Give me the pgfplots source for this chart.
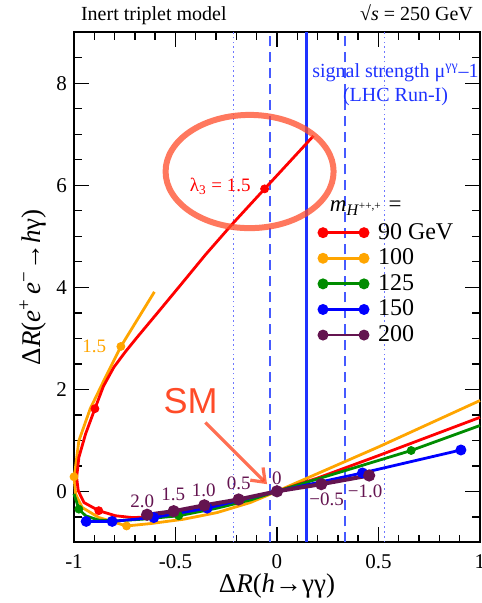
\documentclass[border=0pt]{standalone}
\usepackage{fontspec}
\setmainfont{Liberation Serif}
\newfontfamily\sansSM{Liberation Sans}
\usepackage{pgfplots}
\pgfplotsset{compat=1.18}
\usetikzlibrary{arrows.meta}
\definecolor{cRed}{RGB}{255,0,0}
\definecolor{cOrange}{RGB}{255,165,0}
\definecolor{cGreen}{RGB}{0,140,0}
\definecolor{cBlue}{RGB}{0,0,255}
\definecolor{cPurple}{RGB}{100,20,80}
\definecolor{cLine}{RGB}{30,50,255}
\definecolor{cDash}{RGB}{70,90,255}
\definecolor{cDot}{RGB}{110,120,255}
\definecolor{cAnno}{RGB}{255,75,40}
\begin{document}
\begin{tikzpicture}
\begin{axis}[
  scale only axis, width=203pt, height=255pt,
  xmin=-1, xmax=1, ymin=-1, ymax=9,
  xtick={-1,-0.5,0,0.5,1}, xticklabels={-1,-0.5,0,0.5,1},
  ytick={0,2,4,6,8},
  minor xtick={-0.9,-0.8,-0.7,-0.6,-0.4,-0.3,-0.2,-0.1,0.1,0.2,0.3,0.4,0.6,0.7,0.8,0.9},
  minor ytick={-0.5,0.5,1,1.5,2.5,3,3.5,4.5,5,5.5,6.5,7,7.5,8.5},
  tick align=inside,
  major tick length=7.5pt, minor tick length=3.75pt,
  every tick/.style={black, line width=0.7pt},
  axis line style={line width=0.9pt},
  tick label style={font=\fontsize{10.5}{12}\selectfont},
  /pgf/number format/assume math mode=true,
  xticklabel style={yshift=-2.8pt},
  clip=false,
  xlabel={Δ\textit{R}(\textit{h}→γγ)},
  ylabel={Δ\textit{R}(\textit{e}\textsuperscript{+}\,\textit{e}\textsuperscript{−}→\textit{h}γ)},
  xlabel style={at={(axis description cs:0.5,-0.0992)}, anchor=base, font=\fontsize{13.5}{15}\selectfont},
  ylabel style={at={(axis description cs:-0.0823,0.5)}, anchor=base, font=\fontsize{13.5}{15}\selectfont},
  legend image code/.code={\draw[#1] plot coordinates {(0pt,0pt) (20.5pt,0pt)};},
  legend style={at={(axis cs:0.205,5.33)}, anchor=north west, draw=none, fill=none, inner sep=0pt,
    font=\fontsize{12}{13}\selectfont, row sep=0pt,
    nodes={inner sep=1pt, text height=8.6pt, text depth=2.2pt},
    /tikz/every odd column/.append style={column sep=4pt}},
  legend cell align=left,
]
\coordinate (bl) at (rel axis cs:0,0);
\coordinate (tr) at (rel axis cs:1,1);
% LHC Run-I signal strength lines
\addplot[cDot, line width=0.8pt, dash pattern=on 0.8pt off 1.6pt, forget plot] coordinates {(-0.214,-1) (-0.214,9)};
\addplot[cDot, line width=0.8pt, dash pattern=on 0.8pt off 1.6pt, forget plot] coordinates {(0.529,-1) (0.529,9)};
\addplot[cDash, line width=1pt, dash pattern=on 5pt off 3pt, forget plot] coordinates {(-0.036,-1) (-0.036,9)};
\addplot[cDash, line width=1pt, dash pattern=on 5pt off 3pt, forget plot] coordinates {(0.336,-1) (0.336,9)};
\addplot[cLine, line width=1.5pt, forget plot] coordinates {(0.144,-1) (0.144,9)};

% 100 GeV (orange)
\addplot[cOrange, line width=1.4pt, forget plot] coordinates {
(-0.604,3.91) (-0.769,2.84) (-0.853,2.17) (-0.92,1.62) (-0.976,0.99) (-0.995,0.40) (-1.0,0.285)
(-0.992,-0.055) (-0.959,-0.32) (-0.877,-0.515) (-0.741,-0.68) (-0.623,-0.633) (-0.459,-0.547)
(-0.295,-0.417) (-0.131,-0.22) (0,0) (0.5,0.87) (1.0,1.78)};
\addplot[cOrange, only marks, mark=*, mark size=2pt, forget plot] coordinates {(-0.769,2.84) (-1.0,0.285) (-0.741,-0.68)};

% 90 GeV (red)
\addplot[cRed, line width=1.4pt, forget plot] coordinates {
(0.18,6.97) (-0.061,5.93) (-0.218,5.25) (-0.35,4.65) (-0.476,4.04) (-0.58,3.54) (-0.689,3.02)
(-0.75,2.72) (-0.804,2.43) (-0.855,2.06) (-0.897,1.62) (-0.943,1.125) (-0.976,0.665)
(-0.987,0.27) (-0.979,0.01) (-0.951,-0.22)
(-0.878,-0.38) (-0.795,-0.48) (-0.713,-0.515) (-0.6,-0.5) (-0.45,-0.40) (-0.3,-0.275) (-0.15,-0.14)
(0,0) (0.2,0.26) (0.5,0.70) (1.0,1.45)};
\addplot[cRed, only marks, mark=*, mark size=2pt, forget plot] coordinates {(-0.061,5.93) (-0.897,1.62) (-0.878,-0.38)};

% 125 GeV (green)
\addplot[cGreen, line width=1.4pt, forget plot] coordinates {
(-1.0,-0.05) (-0.976,-0.35) (-0.943,-0.48) (-0.877,-0.567) (-0.795,-0.58) (-0.664,-0.547)
(-0.484,-0.48) (-0.295,-0.33) (-0.131,-0.17) (0,0) (0.661,0.80) (1.0,1.29)};
\addplot[cGreen, only marks, mark=*, mark size=2pt, forget plot] coordinates {(-0.976,-0.35) (-0.484,-0.48) (0.661,0.80)};

% 150 GeV (blue)
\addplot[cBlue, line width=1.4pt, mark=*, mark size=2pt, forget plot] coordinates {
(-0.94,-0.59) (-0.812,-0.59) (-0.607,-0.515) (-0.344,-0.33) (0,0) (0.421,0.36) (0.906,0.81)};

% 200 GeV (purple)
\addplot[cPurple, line width=2pt, mark=*, mark size=2pt, forget plot] coordinates {
(-0.64,-0.46) (-0.509,-0.39) (-0.358,-0.275) (-0.189,-0.16) (0,0) (0.218,0.14) (0.454,0.31)};

% legend
\addlegendimage{cRed, line width=1.4pt, mark=*, mark size=2pt}
\addlegendentry{90 GeV}
\addlegendimage{cOrange, line width=1.4pt, mark=*, mark size=2pt}
\addlegendentry{100}
\addlegendimage{cGreen, line width=1.4pt, mark=*, mark size=2pt}
\addlegendentry{125}
\addlegendimage{cBlue, line width=1.4pt, mark=*, mark size=2pt}
\addlegendentry{150}
\addlegendimage{cPurple, line width=1.4pt, mark=*, mark size=2pt}
\addlegendentry{200}

\node[anchor=base west, font=\fontsize{11.5}{13}\selectfont] at (axis cs:0.226,5.48)
  {\textit{m}\textsubscript{\textit{H}\textsuperscript{++,+}} =};

% labels
\node[anchor=base west, font=\fontsize{10}{12}\selectfont, yshift=5.65pt] at (axis description cs:0,1) {Inert triplet model};
\node[anchor=base east, font=\fontsize{10}{12}\selectfont, yshift=5.65pt] at (axis description cs:1,1) {√\textit{s} = 250 GeV};
\node[anchor=base, text=cLine, font=\fontsize{10}{12}\selectfont] at (axis cs:0.584,8.11) {signal strength μ\textsuperscript{γγ}–1};
\node[anchor=base, text=cLine, font=\fontsize{10}{12}\selectfont] at (axis cs:0.584,7.65) {(LHC Run-I)};

\node[anchor=base east, text=cRed, font=\fontsize{9.5}{11}\selectfont] at (axis cs:-0.095,5.88) {λ\textsubscript{3} = 1.5};
\node[anchor=base east, text=cOrange, font=\fontsize{9.5}{11}\selectfont] at (axis cs:-0.807,2.73) {1.5};

\begin{scope}[every node/.style={anchor=base, text=cPurple, font=\fontsize{9.5}{11}\selectfont}]
\node at (axis cs:-0.664,-0.32) {2.0};
\node at (axis cs:-0.511,-0.187) {1.5};
\node at (axis cs:-0.361,-0.108) {1.0};
\node at (axis cs:-0.188,0.03) {0.5};
\node at (axis cs:0.0,0.14) {0};
\node at (axis cs:0.244,-0.285) {−0.5};
\node at (axis cs:0.434,-0.12) {−1.0};
\end{scope}

% hand annotations
\draw[cAnno, line width=3pt, opacity=0.75] (axis cs:-0.135,6.27) ellipse [x radius=42pt, y radius=28.3pt];
\node[text=cAnno, font=\sansSM\fontsize{18}{20}\selectfont] at (axis cs:-0.425,1.76) {SM};
\draw[cAnno, line width=1.6pt, opacity=0.8, -{Straight Barb[length=6pt,width=9pt]}] (axis cs:-0.353,1.35) -- (axis cs:-0.049,0.14);
\end{axis}
\pgfresetboundingbox
\path ([shift={(-37pt,-30.35pt)}]bl) rectangle ([shift={(1pt,16.15pt)}]tr);
\end{tikzpicture}
\end{document}
